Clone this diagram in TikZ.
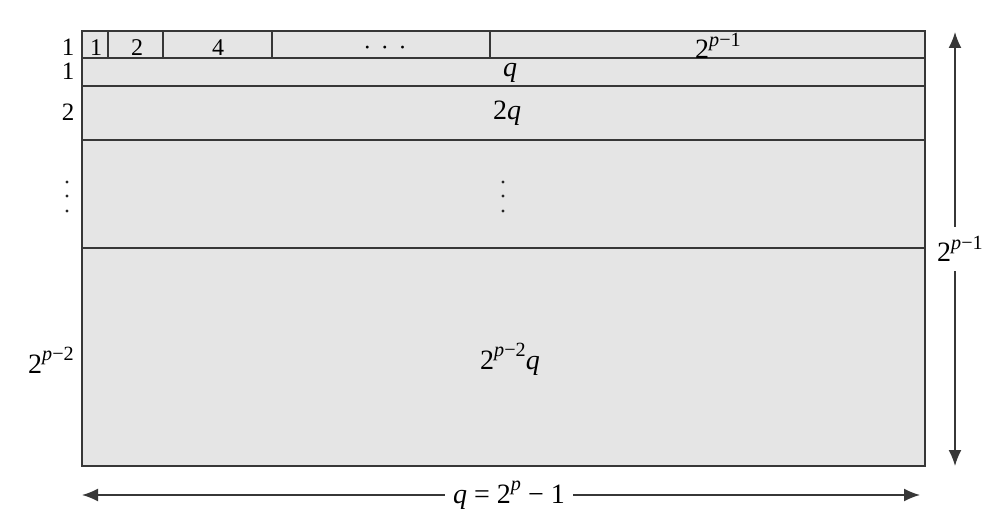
\documentclass[tikz,border=0pt]{standalone}
\usepackage{fontspec}
\setmainfont{Liberation Serif}
\usetikzlibrary{arrows.meta}

\definecolor{cellgray}{RGB}{229,229,229}
\definecolor{rulegray}{RGB}{55,55,55}
\newcommand{\pexp}[1]{\raisebox{0.45em}{\scalebox{0.72}{#1}}}

\tikzset{
  cell/.style={draw=rulegray, fill=cellgray, line width=1.6pt},
  rule/.style={draw=rulegray, line width=1.6pt},
  small/.style={anchor=base, inner sep=0pt, font=\fontsize{24}{24}\selectfont},
  side/.style={anchor=base, inner sep=0pt, font=\fontsize{25}{25}\selectfont},
  big/.style={anchor=base, inner sep=0pt, font=\fontsize{28}{28}\selectfont},
  dim/.style={draw=rulegray, line width=1.6pt, -{Latex[length=16pt,width=13pt]}},
  dot/.style={fill=black!85, draw=none},
}

\begin{document}
\begin{tikzpicture}[x=1pt,y=-1pt]
    \useasboundingbox (0,0) rectangle (1006,526);
    % the table
    \draw[cell] (82,31) rectangle (925,466);
    \foreach \y in {58,86,140,248} \draw[rule] (82,\y) -- (925,\y);
    \foreach \x in {108,163,272,490} \draw[rule] (\x,31) -- (\x,58);
    % first row
    \node[small] (cell1) at (96,56) {1};
    \node[small] (cell2) at (137,56) {2};
    \node[small] (cell4) at (218,56) {4};
    \node[small] (celldots) at (385,56) {·\hspace{0.4em}·\hspace{0.4em}·};
    \node[big] (celltop) at (718,59) {2\pexp{\textit{p}−1}};
    % rows
    \node[big] (rowq) at (510,77) {\textit{q}};
    \node[big] (row2q) at (507,120) {2\textit{q}};
    \foreach \y in {182,196,211} \fill[dot] (503,\y) circle (1.6pt);
    \node[big] (rowlast) at (510,369) {2\pexp{\textit{p}−2}\textit{q}};
    % row sizes
    \node[side] (lab1a) at (68,56) {1};
    \node[side] (lab1b) at (68,80) {1};
    \node[side] (lab2) at (68,121) {2};
    \foreach \y in {182,196,211} \fill[dot] (67,\y) circle (1.6pt);
    \node[big] (lablast) at (51,373) {2\pexp{\textit{p}−2}};
    % height
    \coordinate (htop) at (955,32);
    \coordinate (hbot) at (955,466);
    \node[big, anchor=center, inner ysep=9pt] (hlab) at (960,249) {2\pexp{\textit{p}−1}};
    \draw[dim] (hlab.north -| htop) -- (htop);
    \draw[dim] (hlab.south -| htop) -- (hbot);
    % width
    \coordinate (wleft) at (82,495);
    \coordinate (wright) at (920,495);
    \node[big, anchor=center, inner xsep=8pt] (wlab) at (509,495) {\textit{q} = 2\pexp{\textit{p}} − 1};
    \draw[dim] (wlab) -- (wleft);
    \draw[dim] (wlab) -- (wright);
\end{tikzpicture}
\end{document}
